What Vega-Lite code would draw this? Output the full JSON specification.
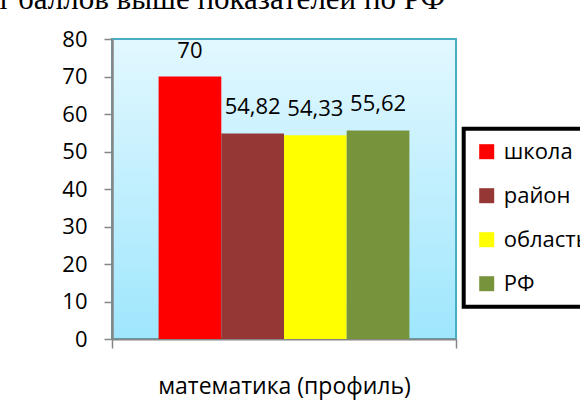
{
  "$schema": "https://vega.github.io/schema/vega-lite/v6.json",
  "width": 344,
  "height": 300,
  "autosize": {"type": "none"},
  "padding": {"left": 112, "top": 39, "right": 124, "bottom": 74},
  "background": "white",
  "title": {
    "text": "т баллов выше показателей по РФ",
    "font": "Liberation Serif",
    "fontSize": 31,
    "fontWeight": "normal",
    "color": "black",
    "anchor": "end",
    "frame": "group",
    "baseline": "alphabetic",
    "dx": -11,
    "offset": -12
  },
  "data": {
    "values": [
      {"subject": "математика (профиль)", "level": "школа", "score": 70},
      {"subject": "математика (профиль)", "level": "район", "score": 54.82},
      {"subject": "математика (профиль)", "level": "область", "score": 54.33},
      {"subject": "математика (профиль)", "level": "РФ", "score": 55.62}
    ]
  },
  "encoding": {
    "x": {
      "field": "subject",
      "type": "nominal",
      "scale": {"paddingInner": 0, "paddingOuter": 0},
      "axis": {
        "title": null,
        "labelAngle": 0,
        "labelLimit": 0,
        "tickBand": "extent",
        "tickSize": 9,
        "tickColor": "#868686",
        "tickWidth": 1.5,
        "domainColor": "#868686",
        "domainWidth": 2,
        "labelFont": "Open Sans",
        "labelFontSize": 23,
        "labelColor": "#000000",
        "labelPadding": 27
      }
    },
    "xOffset": {
      "field": "level",
      "type": "nominal",
      "sort": ["школа", "район", "область", "РФ"],
      "scale": {"paddingInner": 0, "paddingOuter": 0.743}
    },
    "y": {
      "field": "score",
      "type": "quantitative",
      "scale": {"domain": [0, 80], "nice": false},
      "axis": {
        "title": null,
        "values": [0, 10, 20, 30, 40, 50, 60, 70, 80],
        "grid": false,
        "tickSize": 8,
        "tickColor": "#868686",
        "tickWidth": 1.5,
        "domainColor": "#868686",
        "domainWidth": 2.5,
        "labelFont": "Open Sans",
        "labelFontSize": 22,
        "labelColor": "#000000",
        "labelPadding": 17
      }
    }
  },
  "layer": [
    {
      "mark": {"type": "bar"},
      "encoding": {
        "color": {
          "field": "level",
          "type": "nominal",
          "sort": ["школа", "район", "область", "РФ"],
          "scale": {
            "domain": ["школа", "район", "область", "РФ"],
            "range": ["#FF0000", "#953735", "#FFFF00", "#77933C"]
          },
          "legend": {
            "title": null,
            "orient": "none",
            "legendX": 351.7,
            "legendY": 89.7,
            "symbolType": "square",
            "symbolSize": 225,
            "symbolStrokeWidth": 0,
            "labelFont": "Open Sans",
            "labelFontSize": 22,
            "labelColor": "#000000",
            "labelOffset": 6,
            "rowPadding": 22,
            "padding": 12,
            "strokeColor": "#000000",
            "cornerRadius": 0,
            "fillColor": "#ffffff",
            "encode": {
              "legend": {"update": {"strokeWidth": {"value": 4}}}
            }
          }
        }
      }
    },
    {
      "mark": {
        "type": "text",
        "baseline": "alphabetic",
        "align": "center",
        "dy": -19,
        "font": "Open Sans",
        "fontSize": 22,
        "color": "#000000"
      },
      "encoding": {
        "text": {"field": "score", "type": "quantitative", "format": ".2~f"}
      }
    }
  ],
  "config": {
    "locale": {
      "number": {"decimal": ",", "thousands": " ", "grouping": [3], "currency": ["", ""]}
    },
    "view": {
      "fill": {
        "gradient": "linear",
        "x1": 0, "y1": 0, "x2": 0, "y2": 1,
        "stops": [
          {"offset": 0, "color": "#E2F8FF"},
          {"offset": 1, "color": "#9FE6FD"}
        ]
      },
      "stroke": "#4BACC6",
      "strokeWidth": 2
    }
  }
}
